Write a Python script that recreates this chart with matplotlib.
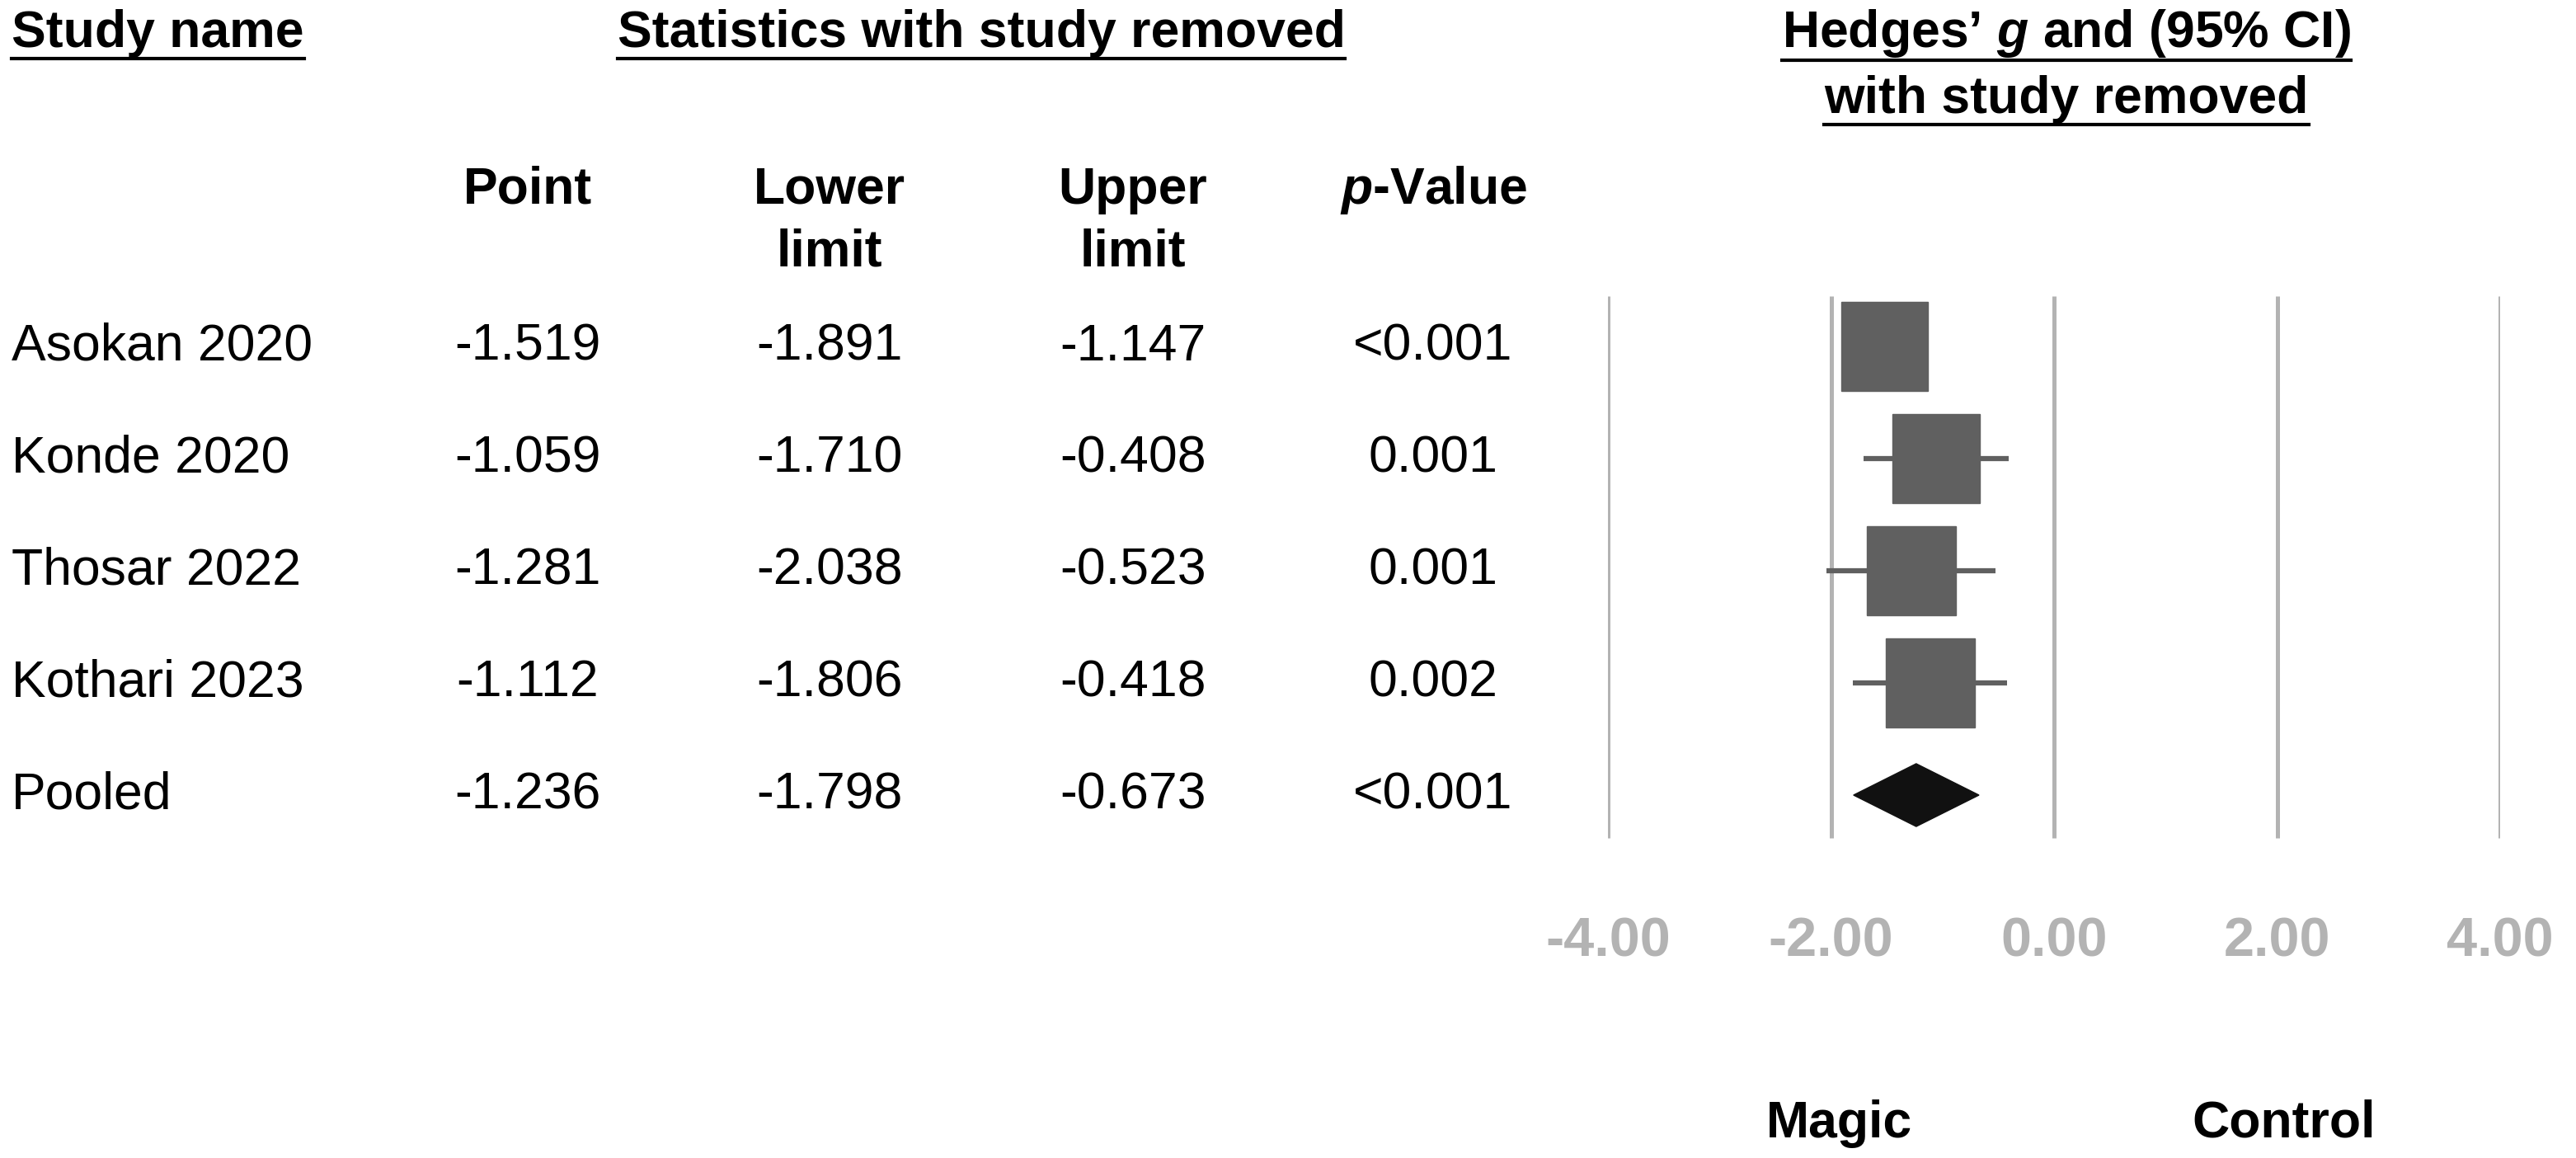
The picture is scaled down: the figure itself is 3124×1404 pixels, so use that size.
import matplotlib
matplotlib.use("Agg")
import matplotlib.pyplot as plt
from matplotlib.patches import Rectangle, Polygon
from matplotlib.lines import Line2D

plt.rcParams['font.family'] = ['Liberation Sans', 'DejaVu Sans']
plt.rcParams['mathtext.fontset'] = 'custom'
plt.rcParams['mathtext.it'] = 'Liberation Sans:bold:italic'
plt.rcParams['mathtext.rm'] = 'Liberation Sans:bold'
plt.rcParams['mathtext.bf'] = 'Liberation Sans:bold'

studies = ["Asokan 2020", "Konde 2020", "Thosar 2022", "Kothari 2023", "Pooled"]
point = [-1.519, -1.059, -1.281, -1.112, -1.236]
lower = [-1.891, -1.710, -2.038, -1.806, -1.798]
upper = [-1.147, -0.408, -0.523, -0.418, -0.673]
pvals = ["<0.001", "0.001", "0.001", "0.002", "<0.001"]
box_w = [0.78, 0.78, 0.80, 0.80]
xticks = [-4, -2, 0, 2, 4]
xticklabels = ["-4.00", "-2.00", "0.00", "2.00", "4.00"]

W, H = 1562, 702
fig = plt.figure(figsize=(31.24, 14.04), dpi=100)
fs = 45

def fx(x): return x / W
def fy(y): return 1 - y / H

AX0, AX1 = 975, 1516
rowy = [210, 278, 346, 414, 482]
y_top, y_bot = 176, 516
ax = fig.add_axes([fx(AX0), fy(y_bot), fx(AX1) - fx(AX0), (y_bot - y_top) / H])
ax.set_xlim(-4, 4)
top = -(210 - y_top) / 68
bot = 4 + (y_bot - 482) / 68
ax.set_ylim(bot, top)
ax.axis('off')
for t in xticks:
    ax.plot([t, t], [top + 0.05, 4 + 0.38], color='#b3b3b3', lw=3.6, zorder=1, solid_capstyle='butt')
for i in range(4):
    ax.plot([lower[i], upper[i]], [i, i], color='#606060', lw=4.5, zorder=2, solid_capstyle='butt')
    w = box_w[i]
    ax.add_patch(Rectangle((point[i] - w / 2, i - 0.4), w, 0.8, color='#606060', zorder=3))
ax.add_patch(Polygon([[lower[4], 4], [point[4], 4 - 0.28], [upper[4], 4], [point[4], 4 + 0.28]],
                     closed=True, color='#111111', zorder=3))

for t, lab in zip(xticks, xticklabels):
    xp = AX0 + (t + 4) / 8 * (AX1 - AX0)
    fig.text(fx(xp), fy(571), lab, ha='center', va='center', fontsize=48, fontweight='bold', color='#b3b3b3')

fig.text(fx(1115), fy(681), "Magic", ha='center', va='center', fontsize=fs, fontweight='bold')
fig.text(fx(1385), fy(681), "Control", ha='center', va='center', fontsize=fs, fontweight='bold')

underlined = []
underlined.append(fig.text(fx(7), fy(20), "Study name", ha='left', va='center', fontsize=fs, fontweight='bold'))
underlined.append(fig.text(fx(595), fy(20), "Statistics with study removed", ha='center', va='center', fontsize=fs, fontweight='bold'))
underlined.append(fig.text(fx(1253), fy(20), "Hedges’ $g$ and (95% CI)", ha='center', va='center', fontsize=fs, fontweight='bold'))
underlined.append(fig.text(fx(1253), fy(60), "with study removed", ha='center', va='center', fontsize=fs, fontweight='bold'))

cols = [320, 503, 687, 869]
fig.text(fx(320), fy(115), "Point", ha='center', va='center', fontsize=fs, fontweight='bold')
fig.text(fx(503), fy(134), "Lower\nlimit", ha='center', va='center', fontsize=fs, fontweight='bold', linespacing=1.35)
fig.text(fx(687), fy(134), "Upper\nlimit", ha='center', va='center', fontsize=fs, fontweight='bold', linespacing=1.35)
fig.text(fx(869), fy(115), "$p$-Value", ha='center', va='center', fontsize=fs, fontweight='bold')

for i, s in enumerate(studies):
    y = fy(rowy[i])
    fig.text(fx(7), y, s, ha='left', va='center', fontsize=fs)
    for c, v in zip(cols, [f"{point[i]:.3f}", f"{lower[i]:.3f}", f"{upper[i]:.3f}", pvals[i]]):
        fig.text(fx(c), y, v, ha='center', va='center', fontsize=fs)

fig.canvas.draw()
r = fig.canvas.get_renderer()
inv = fig.transFigure.inverted()
for t in underlined:
    bb = t.get_window_extent(r)
    (x0, y0), (x1, y1) = inv.transform([(bb.x0, bb.y0), (bb.x1, bb.y1)])
    fig.add_artist(Line2D([x0, x1], [y0 - 0.001, y0 - 0.001], transform=fig.transFigure, color='black', lw=3))

fig.savefig("out.png", dpi=100)
